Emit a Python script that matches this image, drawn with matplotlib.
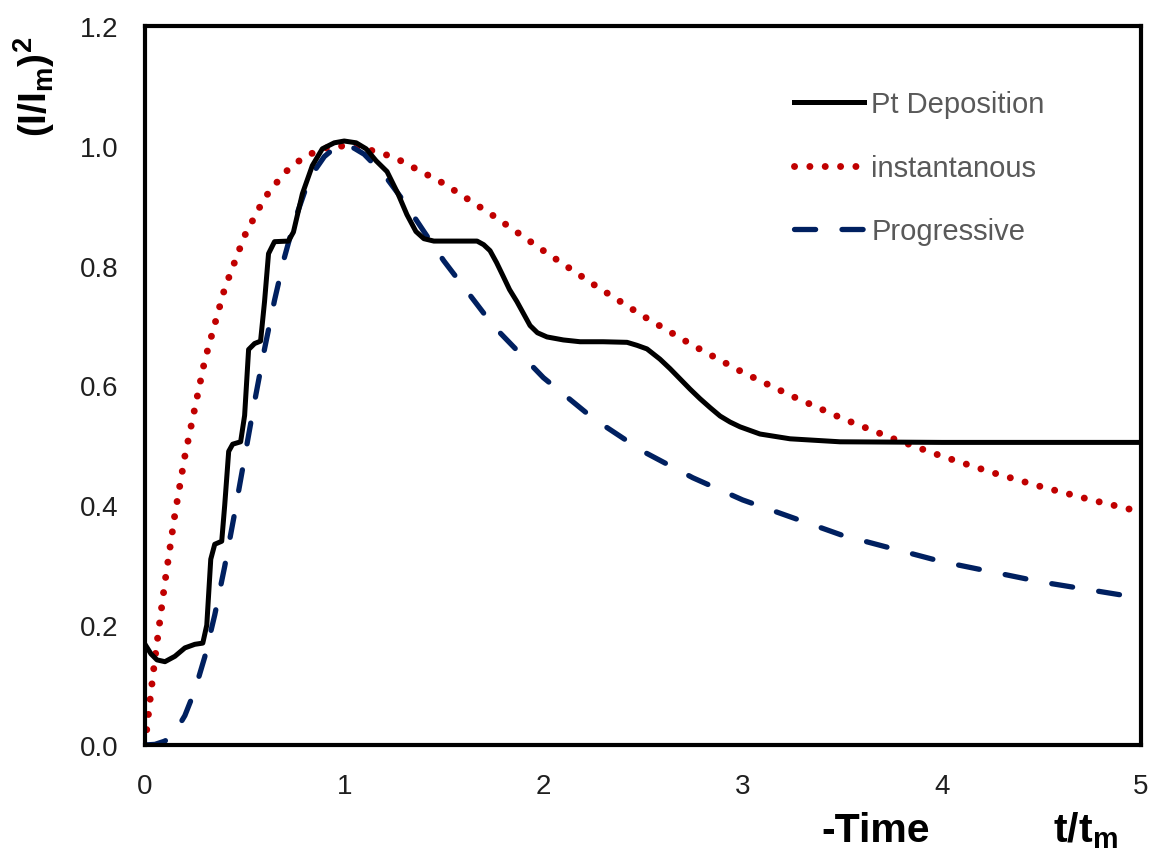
import matplotlib
matplotlib.use("Agg")
import matplotlib.pyplot as plt

plt.rcParams['font.family'] = ['Liberation Sans', 'DejaVu Sans']
plt.rcParams['mathtext.fontset'] = 'custom'
plt.rcParams['mathtext.rm'] = 'Liberation Sans'
plt.rcParams['mathtext.bf'] = 'Liberation Sans:bold'

xPt = [0.0, 0.03, 0.06, 0.1, 0.15, 0.2, 0.25, 0.29, 0.31, 0.33, 0.35, 0.385,
       0.40, 0.42, 0.44, 0.48, 0.50, 0.52, 0.55, 0.58, 0.60, 0.62, 0.65, 0.72,
       0.745, 0.79, 0.84, 0.89, 0.95, 1.0, 1.06, 1.11, 1.16, 1.215, 1.27, 1.315,
       1.36, 1.40, 1.45, 1.55, 1.667, 1.70, 1.732, 1.765, 1.797, 1.83, 1.867,
       1.90, 1.933, 1.97, 2.018, 2.1, 2.184, 2.3, 2.42, 2.47, 2.52, 2.585,
       2.636, 2.686, 2.736, 2.786, 2.837, 2.887, 2.937, 2.987, 3.087, 3.238,
       3.489, 4.0, 4.5, 5.0]
yPt = [0.168, 0.152, 0.142, 0.139, 0.148, 0.162, 0.168, 0.170, 0.20, 0.31,
       0.335, 0.340, 0.40, 0.49, 0.502, 0.506, 0.55, 0.66, 0.670, 0.674, 0.74,
       0.82, 0.840, 0.841, 0.856, 0.92, 0.967, 0.995, 1.005, 1.008, 1.005,
       0.995, 0.975, 0.957, 0.92, 0.885, 0.857, 0.845, 0.841, 0.841, 0.841,
       0.835, 0.825, 0.805, 0.783, 0.76, 0.74, 0.72, 0.70, 0.688, 0.681, 0.676,
       0.673, 0.673, 0.672, 0.667, 0.661, 0.644, 0.628, 0.611, 0.594, 0.578,
       0.563, 0.549, 0.539, 0.531, 0.519, 0.511, 0.506, 0.505, 0.505, 0.505]

# instantaneous model curve
xIns = [0.0, 0.02, 0.05, 0.1, 0.15, 0.2, 0.3, 0.4, 0.5, 0.6, 0.7, 0.8, 0.9,
        1.0, 1.1, 1.25, 1.5, 1.75, 2.0, 2.25, 2.5, 2.75, 3.0, 3.25, 3.5, 3.75,
        4.0, 4.25, 4.5, 4.75, 5.0]
yIns = [0.0, 0.06, 0.145, 0.272, 0.385, 0.482, 0.642, 0.762, 0.850, 0.913,
        0.955, 0.982, 0.996, 1.000, 0.996, 0.981, 0.937, 0.883, 0.825, 0.769,
        0.716, 0.667, 0.622, 0.582, 0.545, 0.512, 0.482, 0.455, 0.431, 0.409,
        0.389]

# progressive model curve
xPro = [0.0, 0.05, 0.1, 0.15, 0.2, 0.25, 0.3, 0.35, 0.4, 0.45, 0.5, 0.55, 0.6,
        0.65, 0.7, 0.75, 0.8, 0.85, 0.9, 0.95, 1.0, 1.05, 1.1, 1.2, 1.3, 1.4,
        1.5, 1.75, 2.0, 2.25, 2.5, 2.75, 3.0, 3.5, 4.0, 4.5, 5.0]
yPro = [0.0, 0.001, 0.0065, 0.021, 0.049, 0.091, 0.147, 0.217, 0.298, 0.387,
        0.480, 0.573, 0.661, 0.742, 0.814, 0.874, 0.922, 0.958, 0.982, 0.996,
        1.000, 0.996, 0.986, 0.952, 0.907, 0.857, 0.808, 0.699, 0.613, 0.545,
        0.490, 0.446, 0.409, 0.350, 0.306, 0.272, 0.245]

fig = plt.figure(figsize=(11.51, 8.54), dpi=100)
ax = fig.add_axes([0.126, 0.1265, 0.8653, 0.8419])

ax.plot(xPt, yPt, color='black', lw=3.6, label='Pt Deposition', zorder=3)
ax.plot(xIns, yIns, color='#C00000', lw=5.0, linestyle=(0, (0.01, 2.2)),
        dash_capstyle='round', label='instantanous', zorder=2)
ax.plot(xPro, yPro, color='#002060', lw=3.8, linestyle=(0, (4.0, 5.0)),
        dash_capstyle='round', label='Progressive', zorder=2)

ax.set_xlim(0, 5)
ax.set_ylim(0, 1.2)
ax.set_xticks([0, 1, 2, 3, 4, 5])
ax.set_yticks([0.0, 0.2, 0.4, 0.6, 0.8, 1.0, 1.2])
ax.set_yticklabels(['0.0', '0.2', '0.4', '0.6', '0.8', '1.0', '1.2'])
ax.tick_params(length=0, labelsize=20, labelcolor='#1f1f1f')
ax.tick_params(axis='x', pad=20)
ax.tick_params(axis='y', pad=19)
for s in ax.spines.values():
    s.set_linewidth(3)
    s.set_color('black')

ax.set_ylabel(r'$\mathbf{(I/I_m)^2}$', fontsize=28)
ax.yaxis.set_label_coords(-0.088, 0.917)

fig.text(0.761, 0.014, '-Time', fontsize=29.5, fontweight='bold', ha='center')
fig.text(0.943, 0.014, r'$\mathbf{t/t_m}$', fontsize=29.5, ha='center')

leg = ax.legend(loc='upper left', bbox_to_anchor=(0.64, 0.927), frameon=False,
                fontsize=21, handlelength=2.4, handletextpad=0.25,
                labelspacing=1.22, borderaxespad=0)
for t in leg.get_texts():
    t.set_color('#595959')

fig.savefig('out.png', dpi=100)
